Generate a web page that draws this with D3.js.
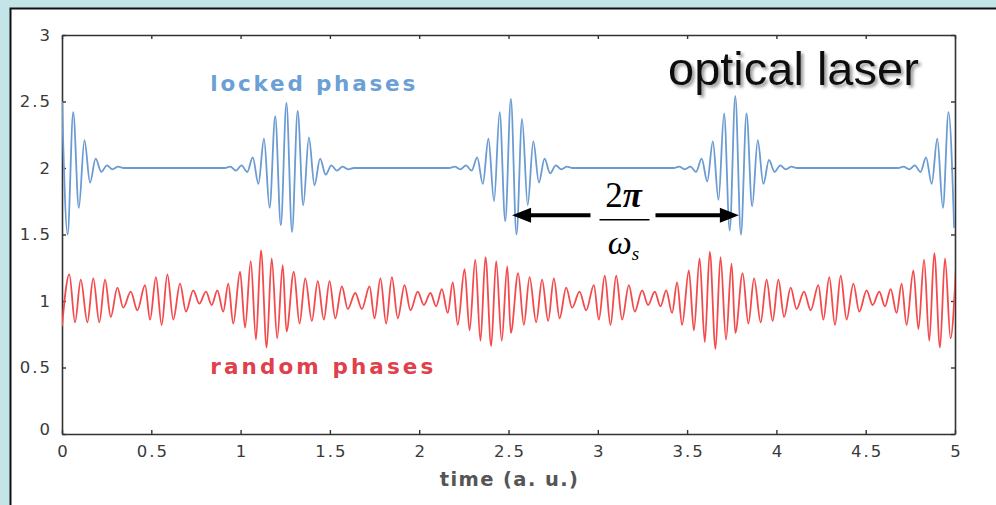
<!DOCTYPE html>
<html>
<head>
<meta charset="utf-8">
<script src="https://cdn.jsdelivr.net/npm/d3@7/dist/d3.min.js"></script>
<style>
  html, body { margin: 0; padding: 0; background: #c4e5e8; }
  svg { display: block; }
</style>
</head>
<body>
<svg id="chart" width="996" height="505"></svg>
<script>
// ---------- DATA ----------
const xTickValues = [0, 0.5, 1, 1.5, 2, 2.5, 3, 3.5, 4, 4.5, 5];
const xTickLabels = ["0", "0.5", "1", "1.5", "2", "2.5", "3", "3.5", "4", "4.5", "5"];
const yTickValues = [0, 0.5, 1, 1.5, 2, 2.5, 3];
const yTickLabels = ["0", "0.5", "1", "1.5", "2", "2.5", "3"];

// locked phases: values sampled every half carrier period (time step in a.u.)
const lockedStep = 0.031416;
const lockedValues = [
  2.50, 1.50, 2.42, 1.70, 2.21, 1.89, 2.07, 1.97, 2.02, 1.99,
  2.01, 2.00, 2.00, 2.00, 2.00, 2.00, 2.00, 2.00, 2.00, 2.00,
  2.00, 2.00, 2.00, 2.00, 2.00, 2.00, 2.00, 2.00, 2.00, 2.00,
  2.01, 1.98, 2.02, 1.97, 2.08, 1.88, 2.22, 1.70, 2.39, 1.57,
  2.49, 1.52, 2.43, 1.72, 2.23, 1.87, 2.07, 1.95, 2.02, 1.98,
  2.01, 1.99, 2.00, 2.00, 2.00, 2.00, 2.00, 2.00, 2.00, 2.00,
  2.00, 2.00, 2.00, 2.00, 2.00, 2.00, 2.00, 2.00, 2.00, 2.00,
  2.01, 1.99, 2.02, 1.98, 2.08, 1.88, 2.22, 1.75, 2.42, 1.60,
  2.52, 1.50, 2.37, 1.72, 2.20, 1.89, 2.07, 1.96, 2.02, 1.99,
  2.01, 2.00, 2.00, 2.00, 2.00, 2.00, 2.00, 2.00, 2.00, 2.00,
  2.00, 2.00, 2.00, 2.00, 2.00, 2.00, 2.00, 2.00, 2.00, 2.00,
  2.01, 1.99, 2.01, 1.97, 2.07, 1.90, 2.20, 1.76, 2.41, 1.53,
  2.54, 1.50, 2.41, 1.71, 2.21, 1.88, 2.06, 1.97, 2.02, 1.99,
  2.01, 2.00, 2.00, 2.00, 2.00, 2.00, 2.00, 2.00, 2.00, 2.00,
  2.00, 2.00, 2.00, 2.00, 2.00, 2.00, 2.00, 2.00, 2.00, 2.00,
  2.01, 1.99, 2.02, 1.97, 2.08, 1.88, 2.22, 1.70, 2.42, 1.55
];

// random phases: extrema (time, value)
const randomTimes = [
  0.000, 0.041, 0.073, 0.105, 0.142, 0.175, 0.209, 0.241, 0.273, 0.310,
  0.343, 0.385, 0.422, 0.465, 0.493, 0.526, 0.558, 0.590, 0.623, 0.661,
  0.694, 0.735, 0.769, 0.806, 0.838, 0.870, 0.903, 0.931, 0.959, 0.997,
  1.025, 1.057, 1.086, 1.114, 1.146, 1.174, 1.205, 1.236,
  1.257, 1.298, 1.330, 1.362, 1.399, 1.432, 1.466, 1.498, 1.530, 1.567,
  1.600, 1.642, 1.679, 1.722, 1.750, 1.783, 1.815, 1.847, 1.880, 1.918,
  1.951, 1.992, 2.026, 2.063, 2.095, 2.127, 2.160, 2.188, 2.216, 2.254,
  2.282, 2.314, 2.343, 2.371, 2.403, 2.431, 2.462, 2.493,
  2.513, 2.554, 2.586, 2.618, 2.655, 2.688, 2.722, 2.754, 2.786, 2.823,
  2.856, 2.898, 2.935, 2.978, 3.006, 3.039, 3.071, 3.103, 3.136, 3.174,
  3.207, 3.248, 3.282, 3.319, 3.351, 3.383, 3.416, 3.444, 3.472, 3.510,
  3.538, 3.570, 3.599, 3.627, 3.659, 3.687, 3.718, 3.749,
  3.770, 3.811, 3.843, 3.875, 3.912, 3.945, 3.979, 4.011, 4.043, 4.080,
  4.113, 4.155, 4.192, 4.235, 4.263, 4.296, 4.328, 4.360, 4.393, 4.431,
  4.464, 4.505, 4.539, 4.576, 4.608, 4.640, 4.673, 4.701, 4.729, 4.767,
  4.795, 4.827, 4.856, 4.884, 4.916, 4.944, 4.975, 5.006
];
const randomValues = [
  0.81, 1.20, 0.84, 1.16, 0.84, 1.17, 0.84, 1.16, 0.88, 1.10,
  0.95, 1.07, 0.93, 1.12, 0.86, 1.18, 0.82, 1.20, 0.86, 1.13,
  0.92, 1.08, 0.98, 1.07, 0.97, 1.08, 0.92, 1.13, 0.83, 1.22,
  0.80, 1.30, 0.71, 1.38, 0.65, 1.32, 0.72, 1.27,
  0.77, 1.22, 0.83, 1.17, 0.85, 1.15, 0.86, 1.15, 0.87, 1.11,
  0.94, 1.06, 0.94, 1.11, 0.87, 1.17, 0.83, 1.18, 0.87, 1.12,
  0.93, 1.07, 0.97, 1.06, 0.96, 1.09, 0.91, 1.14, 0.82, 1.24,
  0.78, 1.31, 0.70, 1.33, 0.66, 1.30, 0.70, 1.26,
  0.76, 1.21, 0.82, 1.18, 0.84, 1.16, 0.85, 1.17, 0.87, 1.10,
  0.95, 1.07, 0.93, 1.12, 0.86, 1.19, 0.82, 1.19, 0.86, 1.12,
  0.92, 1.08, 0.97, 1.07, 0.96, 1.08, 0.91, 1.14, 0.82, 1.23,
  0.78, 1.32, 0.69, 1.37, 0.64, 1.33, 0.71, 1.28,
  0.76, 1.21, 0.83, 1.17, 0.84, 1.16, 0.85, 1.16, 0.88, 1.10,
  0.94, 1.07, 0.93, 1.12, 0.86, 1.18, 0.82, 1.19, 0.86, 1.13,
  0.92, 1.08, 0.97, 1.07, 0.96, 1.09, 0.91, 1.13, 0.82, 1.23,
  0.79, 1.31, 0.70, 1.36, 0.65, 1.32, 0.72, 1.27
];

const seriesLabels = ["locked phases", "random phases"];
const xTitle = "time (a. u.)";
const cornerTitle = "optical laser";
// annotation: period arrow between packet centres (time units) at level (value units)
const arrowFrom = 2.52, arrowTo = 3.79, arrowLevel = 1.645;

// ---------- CHART ----------
const svg = d3.select("#chart");
const W = 996, H = 505;
const margin = { left: 62, right: 41, top: 35, bottom: 71 };

const x = d3.scaleLinear().domain([0, 5]).range([margin.left, W - margin.right]);
const y = d3.scaleLinear().domain([0, 3]).range([H - margin.bottom, margin.top]);

// background & panel
svg.append("rect").attr("width", W).attr("height", H).attr("fill", "#c4e5e8");
svg.append("rect").attr("x", 10.5).attr("y", 8.5).attr("width", 1100).attr("height", 700)
  .attr("fill", "#ffffff").attr("stroke", "#111").attr("stroke-width", 2);

const defs = svg.append("defs");
defs.append("clipPath").attr("id", "plotclip").append("rect")
  .attr("x", x(0)).attr("y", y(3)).attr("width", x(5) - x(0)).attr("height", y(0) - y(3));
const shadow = defs.append("filter").attr("id", "shadow")
  .attr("x", "-10%").attr("y", "-30%").attr("width", "130%").attr("height", "170%");
shadow.append("feDropShadow").attr("dx", 2.5).attr("dy", 2.5).attr("stdDeviation", 1.6)
  .attr("flood-color", "#777").attr("flood-opacity", 0.75);

const tickFont = "'DejaVu Sans', Verdana, sans-serif";

function styleAxis(g) {
  g.selectAll(".domain").attr("stroke", "#333").attr("stroke-width", 1.6);
  g.selectAll(".tick line").attr("stroke", "#333").attr("stroke-width", 1.4);
  g.selectAll("text").attr("font-family", tickFont).attr("font-size", 16.5)
    .attr("fill", "#3a3a3a").style("letter-spacing", "2px");
}

const xAxis = d3.axisBottom(x).tickValues(xTickValues)
  .tickFormat((d, i) => xTickLabels[i]).tickSize(-4).tickSizeOuter(0).tickPadding(11);
const gx = svg.append("g").attr("transform", `translate(0,${y(0)})`).call(xAxis);
styleAxis(gx);
gx.selectAll("text").attr("dx", "1px");

const yAxis = d3.axisLeft(y).tickValues(yTickValues)
  .tickFormat((d, i) => yTickLabels[i]).tickSize(-4).tickSizeOuter(0).tickPadding(10);
const gy = svg.append("g").attr("transform", `translate(${x(0)},0)`).call(yAxis);
styleAxis(gy);
gy.selectAll(".tick").filter(d => d === 0).select("text").attr("dy", "0.05em");

const gt = svg.append("g").attr("transform", `translate(0,${y(3)})`)
  .call(d3.axisTop(x).tickValues(xTickValues).tickFormat("").tickSize(-4).tickSizeOuter(0));
styleAxis(gt);
const gr = svg.append("g").attr("transform", `translate(${x(5)},0)`)
  .call(d3.axisRight(y).tickValues(yTickValues).tickFormat("").tickSize(-4).tickSizeOuter(0));
styleAxis(gr);

// series
const lockedPts = lockedValues.map((v, i) => ({ t: i * lockedStep, v }));
const randomPts = randomTimes.map((t, i) => ({ t, v: randomValues[i] }));
const line = d3.line().x(d => x(d.t)).y(d => y(d.v)).curve(d3.curveMonotoneX);

const plot = svg.append("g").attr("clip-path", "url(#plotclip)");
plot.append("path").datum(randomPts).attr("d", line)
  .attr("fill", "none").attr("stroke", "#f44a4c").attr("stroke-width", 1.8);
plot.append("path").datum(lockedPts).attr("d", line)
  .attr("fill", "none").attr("stroke", "#6a9bd3").attr("stroke-width", 1.8);

// series labels
svg.append("text").attr("x", x(0.83)).attr("y", y(2.58))
  .attr("font-family", tickFont).attr("font-weight", "bold").attr("font-size", 21.5)
  .style("letter-spacing", "2.8px").attr("fill", "#6c9fd6").text(seriesLabels[0]);
svg.append("text").attr("x", x(0.83)).attr("y", y(0.45))
  .attr("font-family", tickFont).attr("font-weight", "bold").attr("font-size", 21.5)
  .style("letter-spacing", "3.1px").attr("fill", "#e0404c").text(seriesLabels[1]);

// x title
svg.append("text").attr("x", (x(0) + x(5)) / 2 + 1).attr("y", 486)
  .attr("text-anchor", "middle").attr("font-family", tickFont).attr("font-weight", "bold")
  .attr("font-size", 19.5).style("letter-spacing", "1.4px").attr("fill", "#555").text(xTitle);

// corner title with shadow
svg.append("text").attr("x", 668).attr("y", 85).attr("filter", "url(#shadow)")
  .attr("font-family", "'Liberation Sans', Arial, sans-serif").attr("font-size", 47)
  .attr("fill", "#111").text(cornerTitle);

// period arrow annotation
const ay = y(arrowLevel);
const ax0 = x(arrowFrom), ax1 = x(arrowTo);
const fracX = (ax0 + ax1) / 2 - 1;
const ann = svg.append("g");
ann.append("line").attr("x1", ax0 + 16).attr("x2", fracX - 34).attr("y1", ay).attr("y2", ay)
  .attr("stroke", "#000").attr("stroke-width", 4);
ann.append("line").attr("x1", fracX + 31).attr("x2", ax1 - 14).attr("y1", ay).attr("y2", ay)
  .attr("stroke", "#000").attr("stroke-width", 4);
ann.append("path").attr("d", `M${ax0},${ay} L${ax0 + 19},${ay - 7.5} L${ax0 + 19},${ay + 7.5} Z`)
  .attr("fill", "#000");
ann.append("path").attr("d", `M${ax1},${ay} L${ax1 - 19},${ay - 7.5} L${ax1 - 19},${ay + 7.5} Z`)
  .attr("fill", "#000");
ann.append("line").attr("x1", fracX - 25).attr("x2", fracX + 25).attr("y1", ay + 4.5).attr("y2", ay + 4.5)
  .attr("stroke", "#000").attr("stroke-width", 1.6);
const num = ann.append("text").attr("x", fracX - 1).attr("y", ay - 8).attr("text-anchor", "middle")
  .attr("font-family", "'Liberation Serif', 'Times New Roman', serif").attr("font-size", 35).attr("fill", "#000");
num.append("tspan").text("2");
num.append("tspan").attr("font-style", "italic").attr("font-weight", "bold").text("π");
const den = ann.append("text").attr("x", fracX - 1).attr("y", ay + 39).attr("text-anchor", "middle")
  .attr("font-family", "'Liberation Serif', 'Times New Roman', serif").attr("font-size", 34)
  .attr("font-style", "italic").attr("fill", "#000");
den.append("tspan").text("ω");
den.append("tspan").attr("font-size", 19).attr("dy", 6).text("s");
</script>
</body>
</html>
